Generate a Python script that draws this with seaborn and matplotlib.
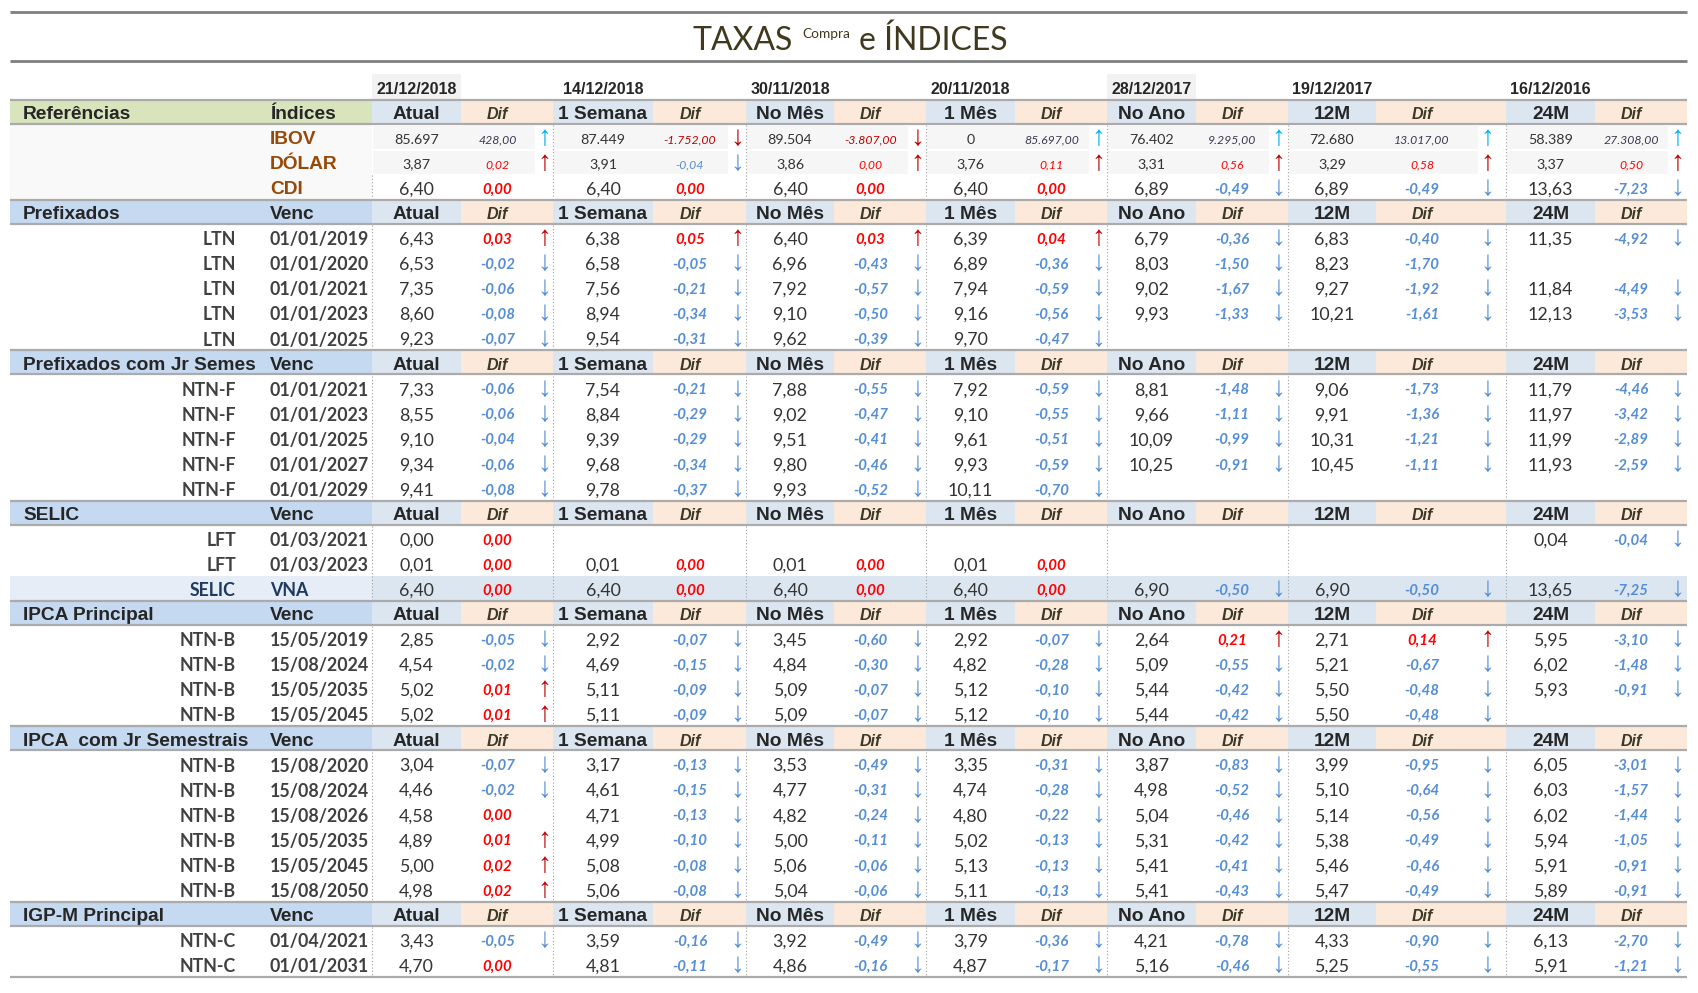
import matplotlib
matplotlib.use("Agg")
import matplotlib.pyplot as plt
from matplotlib.patches import Rectangle
import seaborn as sns

sns.set_theme(style="white")

periods = ["Atual", "1 Semana", "No Mês", "1 Mês", "No Ano", "12M", "24M"]
ref_dates = ["21/12/2018", "14/12/2018", "30/11/2018", "20/11/2018", "28/12/2017", "19/12/2017", "16/12/2016"]

ibov_vals = [85697, 87449, 89504, 0, 76402, 72680, 58389]
ibov_difs = [428.00, -1752.00, -3807.00, 85697.00, 9295.00, 13017.00, 27308.00]
dolar_vals = [3.87, 3.91, 3.86, 3.76, 3.31, 3.29, 3.37]
dolar_difs = [0.02, -0.04, 0.00, 0.11, 0.56, 0.58, 0.50]
dolar_arrows = ["u", "d", "u", "u", "u", "u", "u"]
cdi_vals = [6.40, 6.40, 6.40, 6.40, 6.89, 6.89, 13.63]
cdi_difs = [0.00, 0.00, 0.00, 0.00, -0.49, -0.49, -7.23]

prefixados = [
    ("LTN", "01/01/2019", [6.43, 6.38, 6.40, 6.39, 6.79, 6.83, 11.35], [0.03, 0.05, 0.03, 0.04, -0.36, -0.40, -4.92]),
    ("LTN", "01/01/2020", [6.53, 6.58, 6.96, 6.89, 8.03, 8.23, None], [-0.02, -0.05, -0.43, -0.36, -1.50, -1.70, None]),
    ("LTN", "01/01/2021", [7.35, 7.56, 7.92, 7.94, 9.02, 9.27, 11.84], [-0.06, -0.21, -0.57, -0.59, -1.67, -1.92, -4.49]),
    ("LTN", "01/01/2023", [8.60, 8.94, 9.10, 9.16, 9.93, 10.21, 12.13], [-0.08, -0.34, -0.50, -0.56, -1.33, -1.61, -3.53]),
    ("LTN", "01/01/2025", [9.23, 9.54, 9.62, 9.70, None, None, None], [-0.07, -0.31, -0.39, -0.47, None, None, None]),
]
prefixados_jr = [
    ("NTN-F", "01/01/2021", [7.33, 7.54, 7.88, 7.92, 8.81, 9.06, 11.79], [-0.06, -0.21, -0.55, -0.59, -1.48, -1.73, -4.46]),
    ("NTN-F", "01/01/2023", [8.55, 8.84, 9.02, 9.10, 9.66, 9.91, 11.97], [-0.06, -0.29, -0.47, -0.55, -1.11, -1.36, -3.42]),
    ("NTN-F", "01/01/2025", [9.10, 9.39, 9.51, 9.61, 10.09, 10.31, 11.99], [-0.04, -0.29, -0.41, -0.51, -0.99, -1.21, -2.89]),
    ("NTN-F", "01/01/2027", [9.34, 9.68, 9.80, 9.93, 10.25, 10.45, 11.93], [-0.06, -0.34, -0.46, -0.59, -0.91, -1.11, -2.59]),
    ("NTN-F", "01/01/2029", [9.41, 9.78, 9.93, 10.11, None, None, None], [-0.08, -0.37, -0.52, -0.70, None, None, None]),
]
selic = [
    ("LFT", "01/03/2021", [0.00, None, None, None, None, None, 0.04], [0.00, None, None, None, None, None, -0.04]),
    ("LFT", "01/03/2023", [0.01, 0.01, 0.01, 0.01, None, None, None], [0.00, 0.00, 0.00, 0.00, None, None, None]),
    ("SELIC", "VNA", [6.40, 6.40, 6.40, 6.40, 6.90, 6.90, 13.65], [0.00, 0.00, 0.00, 0.00, -0.50, -0.50, -7.25]),
]
ipca = [
    ("NTN-B", "15/05/2019", [2.85, 2.92, 3.45, 2.92, 2.64, 2.71, 5.95], [-0.05, -0.07, -0.60, -0.07, 0.21, 0.14, -3.10]),
    ("NTN-B", "15/08/2024", [4.54, 4.69, 4.84, 4.82, 5.09, 5.21, 6.02], [-0.02, -0.15, -0.30, -0.28, -0.55, -0.67, -1.48]),
    ("NTN-B", "15/05/2035", [5.02, 5.11, 5.09, 5.12, 5.44, 5.50, 5.93], [0.01, -0.09, -0.07, -0.10, -0.42, -0.48, -0.91]),
    ("NTN-B", "15/05/2045", [5.02, 5.11, 5.09, 5.12, 5.44, 5.50, None], [0.01, -0.09, -0.07, -0.10, -0.42, -0.48, None]),
]
ipca_jr = [
    ("NTN-B", "15/08/2020", [3.04, 3.17, 3.53, 3.35, 3.87, 3.99, 6.05], [-0.07, -0.13, -0.49, -0.31, -0.83, -0.95, -3.01]),
    ("NTN-B", "15/08/2024", [4.46, 4.61, 4.77, 4.74, 4.98, 5.10, 6.03], [-0.02, -0.15, -0.31, -0.28, -0.52, -0.64, -1.57]),
    ("NTN-B", "15/08/2026", [4.58, 4.71, 4.82, 4.80, 5.04, 5.14, 6.02], [0.00, -0.13, -0.24, -0.22, -0.46, -0.56, -1.44]),
    ("NTN-B", "15/05/2035", [4.89, 4.99, 5.00, 5.02, 5.31, 5.38, 5.94], [0.01, -0.10, -0.11, -0.13, -0.42, -0.49, -1.05]),
    ("NTN-B", "15/05/2045", [5.00, 5.08, 5.06, 5.13, 5.41, 5.46, 5.91], [0.02, -0.08, -0.06, -0.13, -0.41, -0.46, -0.91]),
    ("NTN-B", "15/08/2050", [4.98, 5.06, 5.04, 5.11, 5.41, 5.47, 5.89], [0.02, -0.08, -0.06, -0.13, -0.43, -0.49, -0.91]),
]
igpm = [
    ("NTN-C", "01/04/2021", [3.43, 3.59, 3.92, 3.79, 4.21, 4.33, 6.13], [-0.05, -0.16, -0.49, -0.36, -0.78, -0.90, -2.70]),
    ("NTN-C", "01/01/2031", [4.70, 4.81, 4.86, 4.87, 5.16, 5.25, 5.91], [0.00, -0.11, -0.16, -0.17, -0.46, -0.55, -1.21]),
]
# the second label is cut by the cell edge in the original sheet
sections = [
    ("Prefixados", prefixados),
    ("Prefixados com Jr Semes", prefixados_jr),
    ("SELIC", selic),
    ("IPCA Principal", ipca),
    ("IPCA  com Jr Semestrais", ipca_jr),
    ("IGP-M Principal", igpm),
]

# -- layout (pixels)
W, H = 1699, 993
X0, X1 = 10, 1687
val_l = [372, 553, 746, 926, 1107, 1288, 1506]
dif_l = [461, 653, 834, 1015, 1196, 1376, 1595]
grp_r = val_l[1:] + [X1]
arrow_x = [544, 737, 917, 1098, 1278, 1487, 1677]
val_c = [(a + b) / 2 for a, b in zip(val_l, dif_l)]
dif_c = [(a + b - 10) / 2 for a, b in zip(dif_l, arrow_x)]
dif_c[5] = 1422
ROW0, PITCH = 112.5, 25.06
TY = 2.0  # text baseline nudge

NUM = ["Lato", "DejaVu Sans"]
HDR = ["Liberation Sans", "DejaVu Sans"]
TXT = "#333333"
RED, DRED, BLUE, CYAN = "#ff0000", "#c00000", "#558ed5", "#00b0f0"
LINE = "#ababab"


def br(v, dec=2):
    s = f"{v:,.{dec}f}"
    return s.replace(",", "X").replace(".", ",").replace("X", ".")


fig = plt.figure(figsize=(W / 100, H / 100), dpi=100)
ax = fig.add_axes([0, 0, 1, 1])
ax.set_xlim(0, W)
ax.set_ylim(H, 0)
ax.axis("off")


def rect(x0, x1, y0, y1, color, z=1):
    ax.add_patch(Rectangle((x0, y0), x1 - x0, y1 - y0, facecolor=color, edgecolor="none", zorder=z))


def hline(y, color=LINE, lw=1.6):
    ax.plot([X0, X1], [y, y], color=color, lw=lw, solid_capstyle="butt", zorder=3)


# -- title
title_color = "#3f3a1e"
r = fig.canvas.get_renderer()
parts = [("TAXAS", 23, 0), ("Compra", 9.8, -12), ("e ÍNDICES", 23, 0)]
texts = []
for s, size, dy in parts:
    t = ax.text(0, 50 + dy, s, fontsize=size, family=NUM, color=title_color, va="baseline", ha="left")
    texts.append(t)
widths = [t.get_window_extent(r).width for t in texts]
gap = 9
x = 850 - (sum(widths) + gap * 2) / 2
for t, w in zip(texts, widths):
    t.set_x(x)
    x += w + gap
hline(12, "#7f7f7f", 2.0)
hline(61, "#7f7f7f", 2.0)

# -- date row
for k, d in enumerate(ref_dates):
    if k in (0, 4):
        rect(val_l[k], dif_l[k], 74, 99, "#f2f2f2")
    ax.text(val_c[k], 87 + TY, d, fontsize=11.5, family=HDR, weight="bold", color="#262626", ha="center", va="center")


def header_row(i, label, second, label_color):
    y = ROW0 + PITCH * i
    top, bot = y - 12.8, y + 11.2
    ty = y + TY
    rect(X0, val_l[0], top, bot, label_color)
    for k in range(7):
        rect(val_l[k], dif_l[k], top, bot, "#dce6f1")
        rect(dif_l[k], grp_r[k], top, bot, "#fde9d9")
        ax.text(val_c[k], ty, periods[k], fontsize=13.8, family=HDR, weight="bold", color="#262626", ha="center", va="center")
        ax.text(dif_c[k], ty, "Dif", fontsize=11.5, family=HDR, weight="bold", style="italic", color="#3b3a26", ha="center", va="center")
    ax.text(23, ty, label, fontsize=13.8, family=HDR, weight="bold", color="#262626", ha="left", va="center")
    ax.text(270, ty, second, fontsize=13.8, family=HDR, weight="bold", color="#262626", ha="left", va="center")
    hline(top)
    hline(bot)


def arrow(k, y, up, color):
    ax.text(arrow_x[k], y + 0.5, "↑" if up else "↓", fontsize=20, family=HDR, color=color, ha="center", va="center", zorder=4)


def dotted(i0, i1, xs):
    for xv in xs:
        ax.plot([xv, xv], [ROW0 + PITCH * i0 - 12.5, ROW0 + PITCH * i1 + 12.5], color="#a0a0a0", lw=0.8,
                ls=(0, (1, 2)), zorder=2)


# -- references block
header_row(0, "Referências", "Índices", "#d8e4bc")
rect(X0, val_l[0], ROW0 + PITCH * 0.5, ROW0 + PITCH * 3.5, "#f9f9f9")
names = ["IBOV", "DÓLAR", "CDI"]
for j, name in enumerate(names):
    y = ROW0 + PITCH * (j + 1)
    ax.text(270, y + TY, name, fontsize=13.8, family=HDR, weight="bold", color="#984807", ha="left", va="center")
for k in range(7):
    # IBOV
    y = ROW0 + PITCH
    for yy in (y, y + PITCH):
        rect(val_l[k] + 1, arrow_x[k] - 9, yy - 11.5, yy + 11.5, "#f6f6f6")
    v, d = ibov_vals[k], ibov_difs[k]
    ax.text(val_c[k], y + TY, br(v, 0), fontsize=10.3, family=NUM, color=TXT, ha="center", va="center")
    ax.text(dif_c[k], y + TY, br(d), fontsize=8.8, family=NUM, style="italic", color="#3a3a52" if d > 0 else DRED,
            ha="center", va="center")
    arrow(k, y, d > 0, CYAN if d > 0 else DRED)
    # DOLAR
    y = ROW0 + PITCH * 2
    v, d = dolar_vals[k], dolar_difs[k]
    ax.text(val_c[k], y + TY, br(v), fontsize=10.3, family=NUM, color=TXT, ha="center", va="center")
    ax.text(dif_c[k], y + TY, br(d), fontsize=8.8, family=NUM, style="italic", color=BLUE if d < 0 else RED,
            ha="center", va="center")
    up = dolar_arrows[k] == "u"
    arrow(k, y, up, DRED if up else BLUE)
    # CDI
    y = ROW0 + PITCH * 3
    v, d = cdi_vals[k], cdi_difs[k]
    ax.text(val_c[k], y + TY, br(v), fontsize=12.8, family=NUM, color=TXT, ha="center", va="center")
    ax.text(dif_c[k], y + TY, br(d), fontsize=10.8, family=NUM, weight="bold", style="italic",
            color=BLUE if d < 0 else RED, ha="center", va="center")
    if d != 0:
        arrow(k, y, d > 0, DRED if d > 0 else BLUE)
dotted(1, 3, val_l[1:])
dotted(3, 3, val_l[:1])

# -- bond sections
i = 4
for label, rows in sections:
    header_row(i, label, "Venc", "#c5d9f1")
    first = i + 1
    for name, venc, vals, difs in rows:
        i += 1
        y = ROW0 + PITCH * i
        ty = y + TY
        is_vna = venc == "VNA"
        lab_color = "#1f3a5f" if is_vna else "#404040"
        if is_vna:
            rect(X0, val_l[0], y - 12.5, y + 12.5, "#e6edf7")
            rect(val_l[0], X1, y - 12.5, y + 12.5, "#dce6f1")
        ax.text(236, ty, name, fontsize=12.8, family=NUM, weight="bold", color=lab_color, ha="right", va="center")
        ax.text(270, ty, venc, fontsize=12.8, family=NUM, weight="bold", color=lab_color, ha="left", va="center")
        for k in range(7):
            if vals[k] is not None:
                ax.text(val_c[k], ty, br(vals[k]), fontsize=12.8, family=NUM, color=TXT, ha="center", va="center")
            d = difs[k]
            if d is None:
                continue
            ax.text(dif_c[k], ty, br(d), fontsize=10.8, family=NUM, weight="bold", style="italic",
                    color=BLUE if d < 0 else RED, ha="center", va="center")
            if d != 0:
                arrow(k, y, d > 0, DRED if d > 0 else BLUE)
    dotted(first, i, val_l)
    i += 1

hline(ROW0 + PITCH * (i - 1) + 12.5)

fig.savefig("out.png", dpi=100)
